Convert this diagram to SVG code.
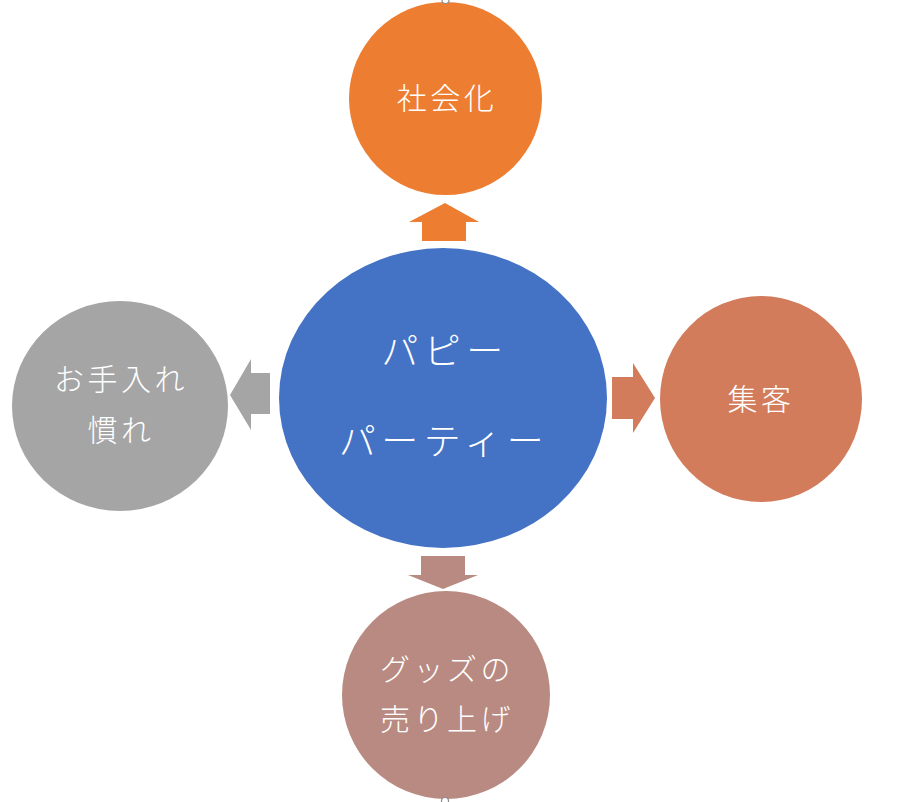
<svg xmlns="http://www.w3.org/2000/svg" width="902" height="802" viewBox="0 0 902 802">
<style>
.t{font-family:"Noto Sans CJK JP","Noto Sans",sans-serif;font-weight:300;fill:#ffffff;text-anchor:middle;dominant-baseline:central}
.s{font-size:30px;letter-spacing:3.5px}
.c{font-size:37px;letter-spacing:5.5px}
.h{fill:#ffffff;stroke:#8c8c8c;stroke-width:1.2}
</style>
<rect width="902" height="802" fill="#ffffff"/>
<g id="connectors">
<polygon points="445,203 479,222 466,222 466,241 422,241 422,222 409,222" fill="#ED7D31"/>
<polygon points="230,395 251,359 251,373 270,373 270,414 251,414 251,430" fill="#A5A5A5"/>
<polygon points="655,398 633,363 633,377 612,377 612,419 633,419 633,433" fill="#D27C5B"/>
<polygon points="443,589 478,575 465,575 465,556 421,556 421,575 408,575" fill="#B98A81"/>
</g>
<g id="node-top">
<circle cx="445.5" cy="98.5" r="96.5" fill="#ED7D31"/>
<circle class="h" cx="445.5" cy="0" r="3.5"/>
<text class="t s" x="447" y="96">社会化</text>
</g>
<g id="node-center">
<ellipse cx="443" cy="398" rx="164" ry="150" fill="#4472C4"/>
<text class="t c" x="445" y="349">パピー</text>
<text class="t c" x="444" y="439">パーティー</text>
</g>
<g id="node-left">
<ellipse cx="120" cy="406" rx="108" ry="105" fill="#A5A5A5"/>
<text class="t s" x="121" y="377">お手入れ</text>
<text class="t s" x="121" y="428">慣れ</text>
</g>
<g id="node-right">
<ellipse cx="761" cy="399" rx="101" ry="103" fill="#D27C5B"/>
<text class="t s" x="761" y="397">集客</text>
</g>
<g id="node-bottom">
<circle cx="446" cy="695" r="104" fill="#B98A81"/>
<circle class="h" cx="445" cy="801" r="3.5"/>
<text class="t s" x="447" y="667">グッズの</text>
<text class="t s" x="447" y="717">売り上げ</text>
</g>
</svg>
